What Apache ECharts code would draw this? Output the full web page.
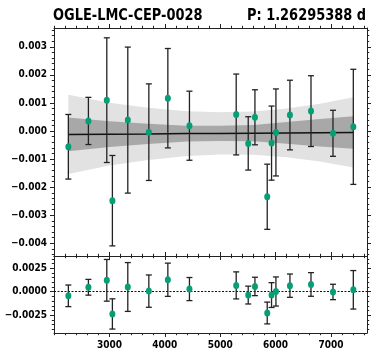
<!DOCTYPE html>
<html>
<head>
<meta charset="utf-8">
<script src="https://cdn.jsdelivr.net/npm/echarts@6/dist/echarts.min.js"></script>
<style>
  html, body { margin: 0; padding: 0; background: #fff; }
  #lc-chart { width: 379px; height: 363px; }
</style>
</head>
<body>
<div id="lc-chart"></div>
<script>
// observation epochs and measured values
var epochs = [2259, 2621, 2953, 3054, 3332, 3712, 4055, 4445, 5289, 5506, 5627, 5849, 5927, 6006, 6259, 6639, 7036, 7403];
var values = [-0.00056, 0.00036, 0.00110, -0.00248, 0.00039, -0.00004, 0.00117, 0.00019, 0.00059, -0.00044, 0.00049, -0.00234, -0.00043, -0.00005, 0.00057, 0.00071, -0.00008, 0.00015];
var errors = [0.00115, 0.00084, 0.00222, 0.00161, 0.00260, 0.00172, 0.00177, 0.00123, 0.00144, 0.00095, 0.00098, 0.00116, 0.00132, 0.00155, 0.00124, 0.00126, 0.00082, 0.00205];
var residuals = [-0.00044, 0.00047, 0.00121, -0.00237, 0.00050, 0.00006, 0.00127, 0.00028, 0.00067, -0.00036, 0.00056, -0.00227, -0.00036, 0.00002, 0.00064, 0.00077, -0.00003, 0.00020];

// fitted model and its uncertainty bands
var modelX = [2259, 3000, 3700, 4400, 5000, 5600, 6200, 6800, 7403];
var modelY = [-0.000120, -0.000110, -0.000101, -0.000091, -0.000083, -0.000075, -0.000066, -0.000058, -0.000050];
var band1 = [0.00060, 0.00046, 0.00036, 0.00028, 0.00027, 0.00029, 0.00039, 0.00049, 0.00058];
var band2 = [0.00141, 0.00112, 0.00093, 0.00080, 0.00075, 0.00077, 0.00087, 0.00103, 0.00125];

// axes
var xMin = 2000, xMax = 7650;
var xMajor = [3000, 4000, 5000, 6000, 7000];
var topMin = -0.00445, topMax = 0.00367;
var topMajor = [-0.004, -0.003, -0.002, -0.001, 0, 0.001, 0.002, 0.003];
var botMin = -0.0044, botMax = 0.0038;
var botMajor = [-0.0025, 0, 0.0025];

var titleText = 'OGLE-LMC-CEP-0028';
var periodText = 'P: 1.26295388 d';

var FONT = "'DejaVu Sans Condensed', 'DejaVu Sans', sans-serif";
var INK = '#222';

function steps(lo, hi, step, skip) {
    var out = [];
    var n0 = Math.ceil(lo / step - 1e-9), n1 = Math.floor(hi / step + 1e-9);
    for (var i = n0; i <= n1; i++) {
        var v = +(i * step).toFixed(6);
        if (skip.indexOf(v) < 0) out.push(v);
    }
    return out;
}

function minus(s) { return s.replace('-', '\u2212'); }

function axisSet(dim, g, min, max, major, minor, labels, fmt) {
    var sides = dim === 'x' ? ['bottom', 'top'] : ['left', 'right'];
    var list = [];
    sides.forEach(function (side, si) {
        [major, minor].forEach(function (vals, k) {
            list.push({
                type: 'value', gridIndex: g, position: side, min: min, max: max,
                axisLine: { show: k === 0, onZero: false, lineStyle: { color: INK, width: 1 } },
                axisTick: { show: true, inside: false, length: k === 0 ? 4 : 2.2, customValues: vals, lineStyle: { color: INK, width: 1 } },
                axisLabel: {
                    show: labels && si === 0 && k === 0, customValues: major,
                    formatter: fmt, fontFamily: FONT, fontWeight: 'bold', fontSize: 10,
                    color: '#000', margin: 7
                },
                splitLine: { show: false }
            });
        });
    });
    return list;
}

var xMinor = steps(xMin, xMax, 200, xMajor);
var topMinor = steps(topMin, topMax, 0.0002, topMajor);
var botMinor = steps(botMin, botMax, 0.0005, botMajor);

var xAxes = axisSet('x', 0, xMin, xMax, xMajor, xMinor, false)
    .concat(axisSet('x', 1, xMin, xMax, xMajor, xMinor, true, function (v) { return String(v); }));
var yAxes = axisSet('y', 0, topMin, topMax, topMajor, topMinor, true, function (v) { return minus(v.toFixed(3)); })
    .concat(axisSet('y', 1, botMin, botMax, botMajor, botMinor, true, function (v) { return minus(v.toFixed(4)); }));

function bandSeries(half, color, z) {
    return {
        type: 'custom', xAxisIndex: 0, yAxisIndex: 0, z: z, silent: true,
        data: modelX.map(function (x, i) { return [x, modelY[i]]; }),
        renderItem: function (params, api) {
            if (params.dataIndex !== 0) return null;
            var upper = [], lower = [];
            for (var i = 0; i < modelX.length; i++) {
                upper.push(api.coord([modelX[i], modelY[i] + half[i]]));
                lower.unshift(api.coord([modelX[i], modelY[i] - half[i]]));
            }
            return { type: 'polygon', shape: { points: upper.concat(lower) }, style: { fill: color } };
        }
    };
}

function errorSeries(ys, axis) {
    return {
        type: 'custom', xAxisIndex: axis, yAxisIndex: axis, z: 5, silent: true,
        data: epochs.map(function (x, i) { return [x, ys[i] - errors[i], ys[i] + errors[i]]; }),
        renderItem: function (params, api) {
            var lo = api.coord([api.value(0), api.value(1)]);
            var hi = api.coord([api.value(0), api.value(2)]);
            var w = 3;
            var st = { stroke: INK, lineWidth: 1.3 };
            return {
                type: 'group', children: [
                    { type: 'line', shape: { x1: lo[0], y1: lo[1], x2: hi[0], y2: hi[1] }, style: st },
                    { type: 'line', shape: { x1: lo[0] - w, y1: lo[1], x2: lo[0] + w, y2: lo[1] }, style: st },
                    { type: 'line', shape: { x1: hi[0] - w, y1: hi[1], x2: hi[0] + w, y2: hi[1] }, style: st }
                ]
            };
        }
    };
}

var chart = echarts.init(document.getElementById('lc-chart'), null, { renderer: 'canvas' });

var titleFont = 'bold 16px ' + FONT;

chart.setOption({
    animation: false,
    backgroundColor: '#fff',
    graphic: [
        {
            type: 'text', x: 53, y: 8, scaleX: 0.9, originX: 0,
            style: { text: titleText, font: titleFont, fill: '#000', align: 'left', verticalAlign: 'top' }
        },
        {
            type: 'text', x: 366, y: 8, scaleX: 0.9, originX: 0,
            style: { text: periodText, font: titleFont, fill: '#000', align: 'right', verticalAlign: 'top' }
        }
    ],
    grid: [
        { left: 54, top: 28, width: 313, height: 228 },
        { left: 54, top: 256, width: 313, height: 77 }
    ],
    xAxis: xAxes,
    yAxis: yAxes,
    series: [
        bandSeries(band2, '#e2e2e2', 1),
        bandSeries(band1, '#a8a8a8', 2),
        {
            type: 'line', xAxisIndex: 0, yAxisIndex: 0, z: 3, showSymbol: false, silent: true,
            data: modelX.map(function (x, i) { return [x, modelY[i]]; }),
            lineStyle: { color: '#111', width: 1.5 }
        },
        errorSeries(values, 0),
        {
            type: 'scatter', xAxisIndex: 0, yAxisIndex: 0, z: 6, symbol: 'circle', symbolSize: [6, 7],
            data: epochs.map(function (x, i) { return [x, values[i]]; }),
            itemStyle: { color: '#079e76', opacity: 1 }
        },
        errorSeries(residuals, 4),
        {
            type: 'scatter', xAxisIndex: 4, yAxisIndex: 4, z: 6, symbol: 'circle', symbolSize: [6, 7],
            data: epochs.map(function (x, i) { return [x, residuals[i]]; }),
            itemStyle: { color: '#079e76', opacity: 1 },
            markLine: {
                silent: true, symbol: 'none', label: { show: false },
                lineStyle: { color: '#111', type: [2, 1.5], width: 1 },
                data: [{ yAxis: 0 }]
            }
        }
    ]
});
</script>
</body>
</html>
